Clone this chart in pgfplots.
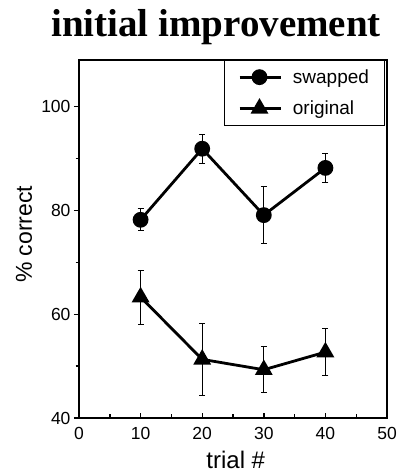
\documentclass[border=0pt]{standalone}
\usepackage{pgfplots}
\pgfplotsset{compat=1.18}
\usepackage{fontspec}
\setmainfont{Liberation Sans}
\newfontfamily\titlefont{Liberation Serif}
\begin{document}
\begin{tikzpicture}
\begin{axis}[
  scale only axis,
  width=308pt, height=358pt,
  xmin=0, xmax=50, ymin=40, ymax=109,
  xtick={0,10,20,30,40,50},
  ytick={40,60,80,100},
  minor xtick={5,15,25,35,45},
  minor ytick={50,70,90},
  tick pos=left,
  tick align=outside,
  major tick length=5pt,
  minor tick length=3.5pt,
  major x tick style={yshift=5pt},
  minor x tick style={yshift=3.5pt},
  every tick/.style={line width=1.4pt, black},
  axis line style={line width=1.6pt},
  /pgf/number format/assume math mode=true,
  ticklabel style={font=\fontsize{17.5}{19}\selectfont},
  xticklabel style={yshift=-1pt},
  xlabel={trial \#},
  ylabel={\% correct},
  every axis x label/.style={at={(axis description cs:0.509,-0.14)}, anchor=base, font=\fontsize{24}{26}\selectfont},
  every axis y label/.style={at={(axis description cs:-0.153,0.513)}, rotate=90, anchor=base, font=\fontsize{23}{25}\selectfont},
  legend style={at={(rel axis cs:0.995,1)}, anchor=north east, draw=black, line width=1pt,
    font=\fontsize{19}{21}\selectfont, inner xsep=14pt, inner ysep=7pt,
    row sep=12pt, cells={anchor=west},
    /tikz/every odd column/.append style={column sep=9pt}},
  legend image code/.code={\draw[#1,mark repeat=2,mark phase=2] plot coordinates {(0pt,0pt) (20pt,0pt) (41pt,0pt)};},
]
\coordinate (A) at (rel axis cs:0,0);
\coordinate (B) at (rel axis cs:1,1);
\coordinate (T) at (rel axis cs:0.445,1);
\addplot[black, line width=2.8pt, mark=*, mark size=6.5pt,
  error bars/.cd, y dir=both, y explicit,
  error bar style={line width=1pt, black},
  error mark options={rotate=90, mark size=3pt, line width=1pt, black}]
  coordinates {
  (10,78.2) +- (0,2.1)
  (20,91.9) +- (0,2.8)
  (30,79.1) +- (0,5.5)
  (40,88.2) +- (0,2.8)
};
\addlegendentry{swapped}
\addplot[black, line width=2.8pt, mark=triangle*, mark size=7.5pt,
  error bars/.cd, y dir=both, y explicit,
  error bar style={line width=1pt, black},
  error mark options={rotate=90, mark size=3pt, line width=1pt, black}]
  coordinates {
  (10,63.3) +- (0,5.2)
  (20,51.3) +- (0,6.9)
  (30,49.3) +- (0,4.4)
  (40,52.7) +- (0,4.5)
};
\addlegendentry{original}
\end{axis}
\node[anchor=base, font=\titlefont\bfseries\fontsize{39}{42}\selectfont, inner sep=0pt]
  at ([yshift=23pt]T) {initial improvement};
\pgfresetboundingbox
\path ([shift={(-79pt,-54pt)}]A) rectangle ([shift={(11pt,60pt)}]B);
\end{tikzpicture}
\end{document}
